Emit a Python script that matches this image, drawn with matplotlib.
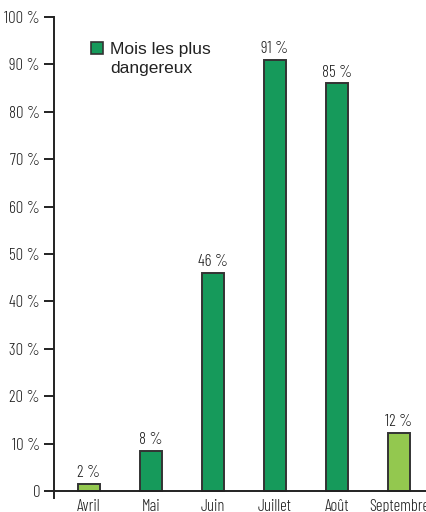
import matplotlib
matplotlib.use('Agg')
import matplotlib.pyplot as plt
from matplotlib.patches import Patch

# données
months = ['Avril', 'Mai', 'Juin', 'Juillet', 'Août', 'Septembre']
values = [1.5, 8.5, 46, 91, 86, 12.2]
value_labels = ['2 %', '8 %', '46 %', '91 %', '85 %', '12 %']
dangerous = [False, True, True, True, True, False]
yticks = [0, 10, 20, 30, 40, 50, 60, 70, 80, 90, 100]
ytick_labels = ['0'] + [f'{t} %' for t in yticks[1:]]
legend_lines = ['Mois les plus', 'dangereux']

dark = '#169a5b'
light = '#93c84f'
narrow = ['Barlow Condensed', 'Archivo Narrow', 'Liberation Sans', 'DejaVu Sans']
txtcol = '#222222'
fsz = 12

fig = plt.figure(figsize=(4.26, 5.12), dpi=100)
ax = fig.add_axes([54 / 426, 1 - 498 / 512, 372 / 426, 481 / 512])

x = list(range(len(months)))
colors = [dark if d else light for d in dangerous]
ax.bar(x, values, width=0.36, color=colors, edgecolor='#333333', linewidth=1.4, zorder=3)

for xi, v, lab in zip(x, values, value_labels):
    ax.text(xi, v + 0.6, lab, ha='center', va='bottom', fontsize=fsz,
            family=narrow, weight=300, color=txtcol)

ax.axhline(0, color='#222222', linewidth=1.4, zorder=4)

ax.set_xlim(-0.565, 5.435)
ax.set_ylim(-1.5, 100)
ax.set_yticks(yticks)
ax.set_yticklabels(ytick_labels, family=narrow, weight=300, fontsize=fsz, color=txtcol)
ax.tick_params(axis='y', length=7, width=1.4, color='#222222', pad=3)

ax.set_xticks(x)
ax.set_xticklabels(months, family=narrow, weight=300, fontsize=fsz, color=txtcol)
ax.tick_params(axis='x', length=0, pad=1)

for s in ['top', 'right', 'bottom']:
    ax.spines[s].set_visible(False)
ax.spines['left'].set_linewidth(1.4)
ax.spines['left'].set_color('#222222')
ax.spines['left'].set_bounds(-1.5, 100)

# légende : carré sur la première ligne, deuxième ligne sans carré
handles = [Patch(facecolor=dark, edgecolor='#333333', linewidth=1.2),
           Patch(visible=False)]
leg = ax.legend(handles, legend_lines, loc='upper left',
                bbox_to_anchor=(0.08, 0.962), frameon=False, handlelength=0.7,
                handleheight=0.7, handletextpad=0.4, borderaxespad=0,
                labelspacing=0.2,
                prop={'family': ['Liberation Sans', 'DejaVu Sans'], 'size': 12.5})
for t in leg.get_texts():
    t.set_color(txtcol)

fig.savefig('out.png', dpi=100)
